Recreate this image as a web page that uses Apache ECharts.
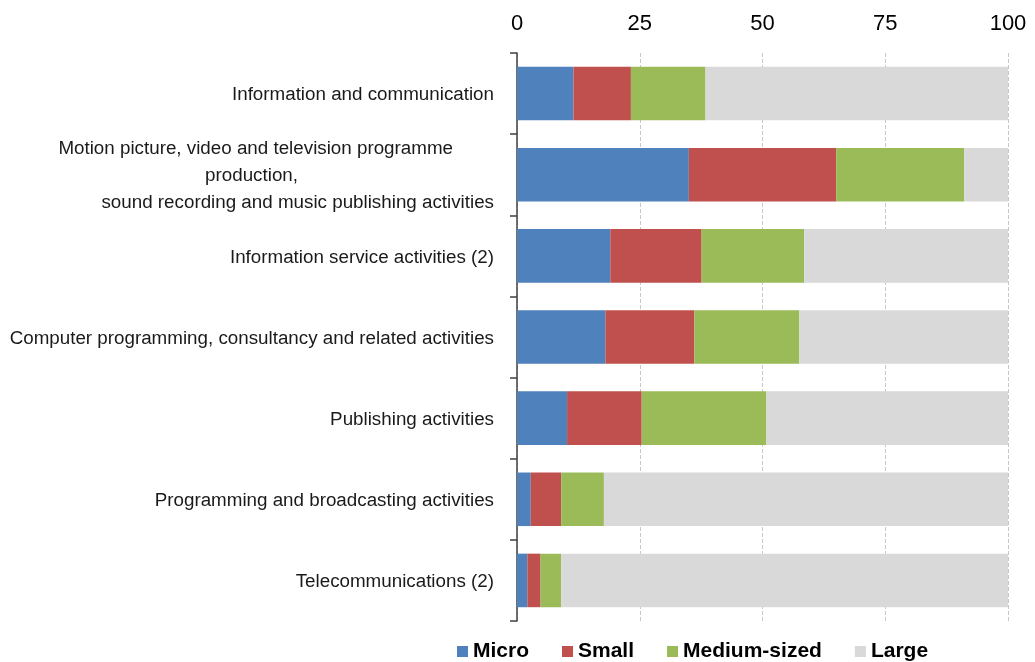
<!DOCTYPE html>
<html>
<head>
<meta charset="utf-8">
<script src="https://cdn.jsdelivr.net/npm/echarts@6/dist/echarts.min.js"></script>
<style>
html,body{margin:0;padding:0;background:#fff;}
#chart{width:1035px;height:662px;}
</style>
</head>
<body>
<div id="chart"></div>
<script>
const categories = [
  "Information and communication",
  "Motion picture, video and television programme production, sound recording and music publishing activities",
  "Information service activities (2)",
  "Computer programming, consultancy and related activities",
  "Publishing activities",
  "Programming and broadcasting activities",
  "Telecommunications (2)"
];
const seriesNames = ["Micro", "Small", "Medium-sized", "Large"];
const micro  = [11.5, 35.0, 19.0, 18.0, 10.2, 2.8, 2.1];
const small  = [11.7, 30.0, 18.6, 18.1, 15.2, 6.2, 2.7];
const medium = [15.2, 26.1, 20.9, 21.4, 25.4, 8.7, 4.2];
const large  = [61.6, 8.9, 41.5, 42.5, 49.2, 82.3, 91.0];
const xTicks = [0, 25, 50, 75, 100];
const colors = ["#4F81BD", "#C0504D", "#9BBB59", "#D9D9D9"];

const chart = echarts.init(document.getElementById('chart'));
const data = [micro, small, medium, large];
const LF = 18.8;

chart.setOption({
  animation: false,
  textStyle: { fontFamily: 'Liberation Sans, Arial, sans-serif' },
  grid: { left: 517, right: 27, top: 53, bottom: 41, containLabel: false },
  legend: {
    data: seriesNames,
    left: 452,
    top: 636,
    itemWidth: 11,
    itemHeight: 11,
    itemGap: 33,
    icon: 'rect',
    textStyle: { fontSize: 21, fontWeight: 'bold', color: '#000' }
  },
  xAxis: {
    type: 'value',
    position: 'top',
    min: xTicks[0],
    max: xTicks[xTicks.length - 1],
    interval: 25,
    axisLine: { show: false },
    axisTick: { show: false },
    axisLabel: { fontSize: 22, color: '#000', margin: 18 },
    splitLine: { show: true, lineStyle: { type: 'dashed', color: '#c8c8c8', width: 1 } }
  },
  yAxis: {
    type: 'category',
    inverse: true,
    data: categories,
    axisLine: { show: true, lineStyle: { color: '#404040', width: 1.5 } },
    axisTick: { show: true, length: 7, lineStyle: { color: '#404040', width: 1.5 } },
    axisLabel: {
      margin: 23,
      fontSize: LF,
      color: '#1a1a1a',
      lineHeight: 27,
      padding: [3, 0, 0, 0],
      formatter: function (v) {
        if (v.indexOf('Motion picture') === 0) {
          return '{a|Motion picture, video and television programme}\n{b|production,}\n{c|sound recording and music publishing activities}';
        }
        return v;
      },
      rich: {
        a: { fontSize: LF, lineHeight: 27, color: '#1a1a1a', padding: [0, 41, 0, 0] },
        b: { fontSize: LF, lineHeight: 27, color: '#1a1a1a', padding: [0, 196, 0, 0] },
        c: { fontSize: LF, lineHeight: 27, color: '#1a1a1a' }
      }
    }
  },
  series: seriesNames.map((name, i) => ({
    name: name,
    type: 'bar',
    stack: 'total',
    barCategoryGap: '34%',
    itemStyle: { color: colors[i] },
    data: data[i]
  }))
});
</script>
</body>
</html>
